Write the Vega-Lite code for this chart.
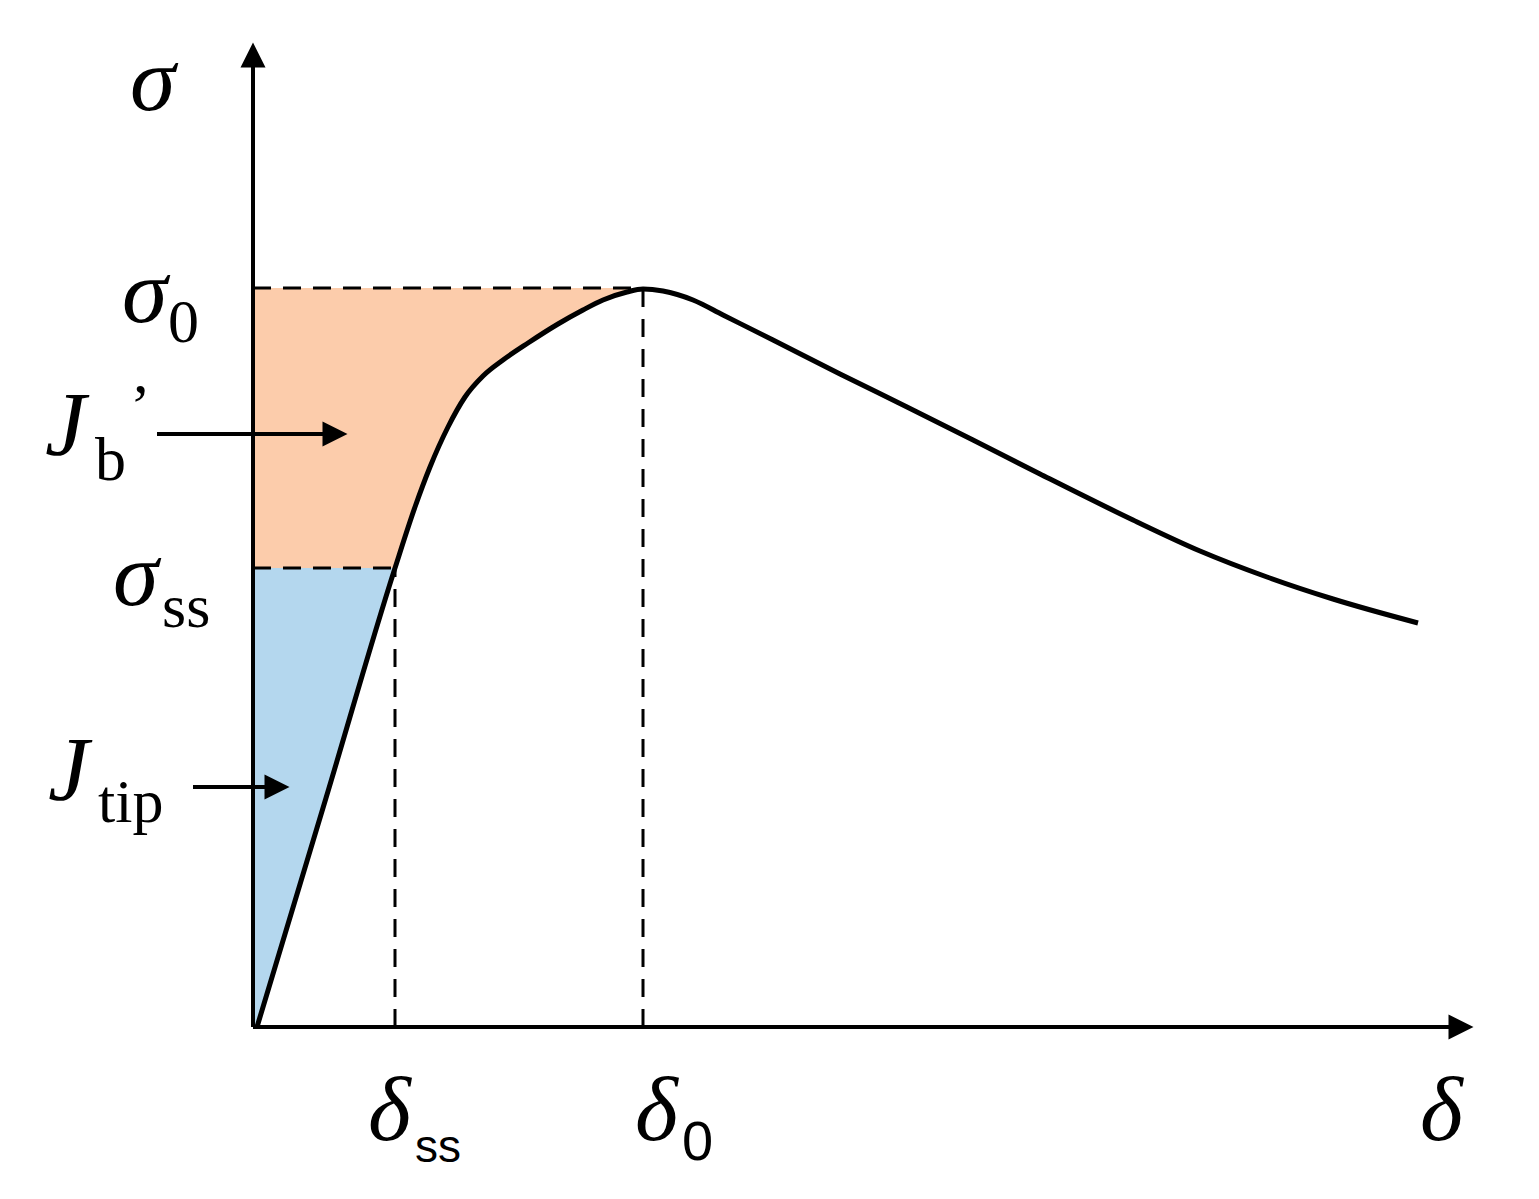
{
  "$schema": "https://vega.github.io/schema/vega-lite/v6.json",
  "width": 1539,
  "height": 1199,
  "padding": 0,
  "autosize": {"type": "none"},
  "background": "white",
  "config": {"view": {"stroke": null}},
  "encoding": {
    "x": {"field": "x", "type": "quantitative", "scale": {"domain": [-253, 1286], "nice": false, "zero": false}, "axis": null},
    "y": {"field": "y", "type": "quantitative", "scale": {"domain": [-172, 1027], "nice": false, "zero": false}, "axis": null}
  },
  "layer": [
    {
      "data": {"values": [
        {"x": 142, "y": 459}, {"x": 162, "y": 520}, {"x": 177, "y": 560}, {"x": 195, "y": 600},
        {"x": 212, "y": 630}, {"x": 230, "y": 651}, {"x": 250, "y": 667}, {"x": 275, "y": 684},
        {"x": 305, "y": 703}, {"x": 330, "y": 717}, {"x": 350, "y": 727}, {"x": 374, "y": 735},
        {"x": 390, "y": 739}
      ]},
      "mark": {"type": "area", "orient": "horizontal", "color": "#FCCCAB", "interpolate": "monotone"},
      "encoding": {"x2": {"datum": 0}}
    },
    {
      "data": {"values": [{"x": 2, "y": 0}, {"x": 142, "y": 459}]},
      "mark": {"type": "area", "orient": "horizontal", "color": "#B4D7EE"},
      "encoding": {"x2": {"datum": 0}}
    },
    {
      "data": {"values": [
        {"x": 0, "y": 739, "x2": 390, "y2": 739},
        {"x": 390, "y": 0, "x2": 390, "y2": 739},
        {"x": 0, "y": 459, "x2": 142, "y2": 459},
        {"x": 142, "y": 0, "x2": 142, "y2": 459}
      ]},
      "mark": {"type": "rule", "color": "black", "strokeWidth": 3, "strokeDash": [18, 12]},
      "encoding": {"x2": {"field": "x2"}, "y2": {"field": "y2"}}
    },
    {
      "data": {"values": [
        {"x": 0, "y": 0, "x2": 1210, "y2": 0},
        {"x": 0, "y": 0, "x2": 0, "y2": 975},
        {"x": -96, "y": 593, "x2": 75, "y2": 593},
        {"x": -60, "y": 240, "x2": 18, "y2": 240}
      ]},
      "mark": {"type": "rule", "color": "black", "strokeWidth": 4},
      "encoding": {"x2": {"field": "x2"}, "y2": {"field": "y2"}}
    },
    {
      "data": {"values": [
        {"x": 4, "y": 0}, {"x": 73, "y": 229}, {"x": 142, "y": 459}, {"x": 162, "y": 520},
        {"x": 177, "y": 560}, {"x": 195, "y": 600}, {"x": 212, "y": 630}, {"x": 230, "y": 651},
        {"x": 250, "y": 667}, {"x": 275, "y": 684}, {"x": 305, "y": 703}, {"x": 330, "y": 717},
        {"x": 350, "y": 727}, {"x": 374, "y": 735}, {"x": 390, "y": 738}, {"x": 410, "y": 736},
        {"x": 440, "y": 727}, {"x": 470, "y": 712}, {"x": 520, "y": 687}, {"x": 587, "y": 653},
        {"x": 654, "y": 620}, {"x": 720, "y": 587}, {"x": 787, "y": 553}, {"x": 880, "y": 507},
        {"x": 947, "y": 476}, {"x": 1014, "y": 450}, {"x": 1080, "y": 428}, {"x": 1165, "y": 404}
      ]},
      "mark": {"type": "line", "color": "black", "strokeWidth": 5, "interpolate": "monotone"}
    },
    {
      "data": {"values": [{"x": 1208, "y": 0}, {"x": 82, "y": 593}, {"x": 24, "y": 240}]},
      "mark": {"type": "point", "shape": "M1,0L-1,-1L-1,1Z", "size": 625, "filled": true, "color": "black", "opacity": 1, "strokeWidth": 0}
    },
    {
      "data": {"values": [{"x": 0, "y": 972}]},
      "mark": {"type": "point", "shape": "M0,-1L1,1L-1,1Z", "size": 625, "filled": true, "color": "black", "opacity": 1, "strokeWidth": 0}
    },
    {
      "data": {"values": [
        {"x": -123, "y": 917, "t": "σ"},
        {"x": -131, "y": 705, "t": "σ"},
        {"x": -140, "y": 422, "t": "σ"},
        {"x": -208, "y": 572, "t": "J"},
        {"x": -205, "y": 227, "t": "J"},
        {"x": 115, "y": -113, "t": "δ"},
        {"x": 382, "y": -113, "t": "δ"},
        {"x": 1167, "y": -113, "t": "δ"}
      ]},
      "mark": {"type": "text", "align": "left", "baseline": "alphabetic", "font": "Liberation Serif", "fontStyle": "italic", "fontSize": 92, "color": "black"},
      "encoding": {"text": {"field": "t"}}
    },
    {
      "data": {"values": [
        {"x": -85, "y": 685, "t": "0"},
        {"x": -158, "y": 547, "t": "b"},
        {"x": -123, "y": 601, "t": "’"},
        {"x": -91, "y": 400, "t": "ss"},
        {"x": -155, "y": 205, "t": "tip"}
      ]},
      "mark": {"type": "text", "align": "left", "baseline": "alphabetic", "font": "Liberation Serif", "fontSize": 62, "color": "black"},
      "encoding": {"text": {"field": "t"}}
    },
    {
      "data": {"values": [{"x": 162, "y": -135, "t": "ss"}]},
      "mark": {"type": "text", "align": "left", "baseline": "alphabetic", "font": "Liberation Sans", "fontSize": 46, "color": "black"},
      "encoding": {"text": {"field": "t"}}
    },
    {
      "data": {"values": [{"x": 429, "y": -133, "t": "0"}]},
      "mark": {"type": "text", "align": "left", "baseline": "alphabetic", "font": "Liberation Sans", "fontSize": 56, "color": "black"},
      "encoding": {"text": {"field": "t"}}
    }
  ]
}
